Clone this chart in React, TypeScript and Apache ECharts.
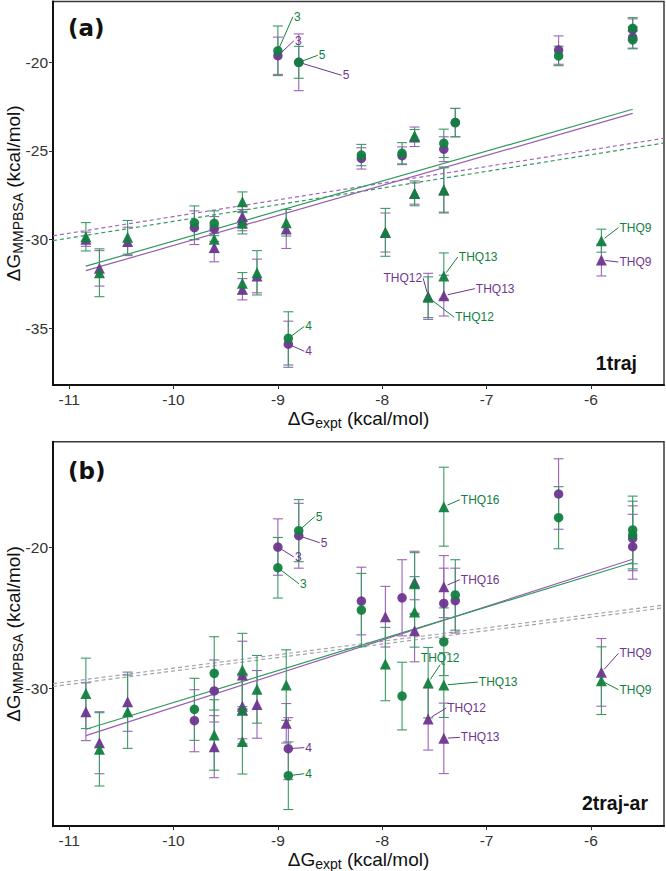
import React, { useEffect, useRef } from 'react';
import * as echarts from 'echarts';

// ---------- colours ----------
const GREEN = '#12803f';
const PURPLE = '#6f3591';
const GREEN_BAR = '#3c9a64';
const PURPLE_BAR = '#9d62b8';
const FONT = '"Liberation Sans", Arial, sans-serif';

// ---------- axes ----------
const xTicks = [-11, -10, -9, -8, -7, -6];
const xRange = [-11.155, -5.3];
const yTicksA = [-35, -30, -25, -20];
const yRangeA = [-38.2, -16.57];
const yTicksB = [-30, -20];
const yRangeB = [-39.8, -12.53];

// ---------- compounds ----------
const circleX = [-9.8, -9.61, -9.0, -8.9, -8.8, -8.2, -7.81, -7.41, -7.3, -6.31, -5.6, -5.6];
const circleNames = ['', '', '3', '4', '5', '', '', '', '', '', '', ''];
const triX = [-10.84, -10.71, -10.44, -9.61, -9.34, -9.34, -9.34, -9.2, -8.92, -7.97, -7.69, -7.69, -7.56, -7.41, -7.41, -5.9];
const triNames = ['', '', '', '', '', '', '', '', '', '', '', '', 'THQ12', 'THQ16', 'THQ13', 'THQ9'];

// ---------- panel (a) 1traj ----------
const aCircG = [-29.05, -29.08, -19.35, -35.57, -20.0, -25.23, -25.13, -24.57, -23.4, -19.64, -18.08, -18.74];
const aCircGErr = [0.95, 0.7, 1.4, 1.5, 0.9, 0.6, 0.6, 0.8, 0.8, 0.55, 0.6, 0.5];
const aCircP = [-29.33, -29.4, -19.63, -35.9, -20.0, -25.42, -25.27, -24.9, -23.4, -19.31, -18.15, -18.6];
const aCircPErr = [0.95, 0.7, 1.05, 1.3, 1.6, 0.6, 0.5, 0.7, 0.8, 0.8, 0.6, 0.6];
const aTriG = [-29.84, -31.87, -29.87, -29.98, -27.86, -29.08, -32.46, -31.87, -29.05, -29.59, -24.14, -27.39, -33.25, -27.2, -32.05, -30.06];
const aTriGErr = [0.8, 1.35, 0.95, 0.75, 0.55, 0.6, 0.6, 1.25, 0.75, 1.35, 0.35, 0.7, 1.15, 1.25, 1.3, 0.65];
const aTriP = [-29.98, -31.62, -30.1, -30.45, -28.7, -28.9, -32.8, -32.05, -29.4, -29.6, -24.2, -27.4, -33.2, -27.2, -33.16, -31.15];
const aTriPErr = [0.4, 1.0, 0.8, 0.8, 0.6, 0.6, 0.6, 0.95, 1.1, 1.1, 0.55, 0.6, 1.3, 1.3, 1.15, 0.9];

// ---------- panel (b) 2traj-ar ----------
const bCircG = [-31.51, -28.96, -21.47, -36.22, -18.84, -24.47, -30.57, -26.72, -23.4, -17.92, -18.79, -19.15];
const bCircGErr = [2.2, 2.6, 2.15, 2.4, 2.2, 2.6, 2.4, 2.4, 2.5, 2.2, 2.4, 2.4];
const bCircP = [-32.32, -30.21, -20.0, -34.3, -19.2, -23.83, -23.6, -24.0, -23.8, -16.24, -19.38, -19.98];
const bCircPErr = [2.2, 2.2, 2.0, 2.2, 2.3, 2.4, 2.7, 2.5, 2.3, 2.5, 2.3, 2.3];
const bTriG = [-30.38, -34.35, -31.68, -33.33, -28.72, -31.56, -33.8, -30.09, -29.79, -28.3, -22.6, -24.6, -29.62, -17.14, -29.79, -29.48];
const bTriGErr = [2.5, 2.6, 2.6, 2.5, 2.6, 2.5, 2.3, 2.4, 2.5, 2.6, 2.2, 2.5, 2.5, 2.8, 2.3, 2.4];
const bTriP = [-31.68, -33.88, -30.97, -34.16, -29.08, -31.56, -31.3, -31.16, -32.5, -24.94, -22.5, -25.94, -32.2, -22.81, -33.57, -28.89];
const bTriPErr = [2.05, 2.2, 2.1, 2.2, 2.4, 2.4, 2.3, 2.4, 1.4, 2.15, 2.2, 2.2, 2.2, 2.2, 2.5, 2.4];

// ---------- fitted lines (slope, intercept) ----------
const solidFitA = { green: [1.689, -13.19], purple: [1.693, -13.4] };
const dashedFitA = { green: [0.94, -19.57], purple: [0.94, -19.3] };
const solidFitB = { green: [2.258, -8.45], purple: [2.387, -7.5] };
const dashedFitB = { upper: [0.953, -19.06], lower: [0.953, -19.26] };

// ---------- labels: [shape, index, colour, dx, dy, align] ----------
const labelsA: any[] = [
  ['c', 2, 'g', 15, -34, 'left'], ['c', 2, 'p', 16, -15, 'left'],
  ['c', 4, 'g', 19, -7, 'left'], ['c', 4, 'p', 43, 13, 'left'],
  ['c', 3, 'g', 16, -12, 'left'], ['c', 3, 'p', 16, 7, 'left'],
  ['t', 12, 'g', 26, 20, 'left'], ['t', 12, 'p', -5, -18, 'right'],
  ['t', 14, 'g', 14, -19, 'left'], ['t', 14, 'p', 31, -7, 'left'],
  ['t', 15, 'g', 17, -13, 'left'], ['t', 15, 'p', 17, 2, 'left'],
];
const labelsB: any[] = [
  ['c', 2, 'p', 16, 10, 'left'], ['c', 2, 'g', 21, 16, 'left'],
  ['c', 4, 'g', 16, -14, 'left'], ['c', 4, 'p', 21, 7, 'left'],
  ['c', 3, 'p', 16, -1, 'left'], ['c', 3, 'g', 16, -2, 'left'],
  ['t', 13, 'g', 16, -7, 'left'], ['t', 13, 'p', 16, -7, 'left'],
  ['t', 12, 'g', 12, -18, 'top'], ['t', 12, 'p', 18, -11, 'left'],
  ['t', 14, 'g', 34, -3, 'left'], ['t', 14, 'p', 16, -1, 'left'],
  ['t', 15, 'p', 17, -19, 'left'], ['t', 15, 'g', 17, 9, 'left'],
];

const errData = (xs: number[], v: number[], e: number[]) => xs.map((x, i) => [x, v[i] - e[i], v[i] + e[i]]);
const ptData = (xs: number[], v: number[]) => xs.map((x, i) => [x, v[i]]);

function errorSeries(panel: number, data: number[][], color: string) {
  return {
    type: 'custom', xAxisIndex: panel, yAxisIndex: panel, data, z: 3, silent: true,
    renderItem: (params: any, api: any) => {
      const x = api.value(0), lo = api.value(1), hi = api.value(2);
      const t = api.coord([x, hi]);
      const b = api.coord([x, lo]);
      const st = { stroke: color, lineWidth: 1.1, fill: null };
      return {
        type: 'group', children: [
          { type: 'line', shape: { x1: t[0], y1: t[1], x2: b[0], y2: b[1] }, style: st },
          { type: 'line', shape: { x1: t[0] - 5, y1: t[1], x2: t[0] + 5, y2: t[1] }, style: st },
          { type: 'line', shape: { x1: b[0] - 5, y1: b[1], x2: b[0] + 5, y2: b[1] }, style: st },
        ],
      };
    },
  };
}

function scatter(panel: number, data: number[][], color: string, symbol: string, z: number) {
  return {
    type: 'scatter', xAxisIndex: panel, yAxisIndex: panel, data, symbol,
    symbolSize: symbol === 'triangle' ? 11 : 9.5, z, silent: true,
    itemStyle: { color, opacity: 0.95 },
  };
}

function lineSeries(panel: number, x0: number, x1: number, fit: number[], color: string, dashed: boolean) {
  const [b, a] = fit;
  return {
    type: 'line', xAxisIndex: panel, yAxisIndex: panel, symbol: 'none', silent: true, z: 2,
    data: [[x0, a + b * x0], [x1, a + b * x1]],
    lineStyle: { color, width: 1.2, type: dashed ? [4, 3] : 'solid' },
  };
}

function labelSeries(panel: number, labels: any[], vals: any) {
  const items = labels.map(([shape, idx, col, dx, dy, align]) => {
    const xs = shape === 'c' ? circleX : triX;
    const v = vals[shape + col][idx];
    return {
      x: xs[idx], y: v, dx, dy, align,
      text: shape === 'c' ? circleNames[idx] : triNames[idx],
      color: col === 'g' ? GREEN : PURPLE,
    };
  });
  return {
    type: 'custom', xAxisIndex: panel, yAxisIndex: panel, z: 10, silent: true, clip: false,
    data: items.map((it) => [it.x, it.y]),
    renderItem: (params: any, api: any) => {
      const it = items[params.dataIndex];
      const p = api.coord([it.x, it.y]);
      const ax = p[0] + it.dx, ay = p[1] + it.dy;
      const len = Math.hypot(it.dx, it.dy) || 1;
      const sx = p[0] + (it.dx / len) * 4, sy = p[1] + (it.dy / len) * 4;
      let tx = ax + 1, ty = ay, al = 'left', va = 'middle';
      if (it.align === 'right') { tx = ax - 1; al = 'right'; }
      if (it.align === 'top') { tx = ax; ty = ay - 1; al = 'center'; va = 'bottom'; }
      return {
        type: 'group', children: [
          { type: 'line', shape: { x1: sx, y1: sy, x2: ax, y2: ay }, style: { stroke: it.color, lineWidth: 1 } },
          {
            type: 'text', x: tx, y: ty,
            style: { text: it.text, fill: it.color, font: `12px ${FONT}`, align: al, verticalAlign: va, textAlign: al, textVerticalAlign: va },
          },
        ],
      };
    },
  };
}

const richName = {
  m: { fontSize: 19, fontFamily: FONT, color: '#111', lineHeight: 24, verticalAlign: 'middle' },
  s: { fontSize: 14, fontFamily: FONT, color: '#111', lineHeight: 14, verticalAlign: 'bottom' },
};

function axes(panel: number, yRange: number[], yTicks: number[]) {
  const labelStyle = { color: '#333', fontSize: 15.5, fontFamily: FONT };
  const x = {
    type: 'value', gridIndex: panel, min: xRange[0], max: xRange[1],
    axisLine: { show: true, onZero: false, lineStyle: { color: '#111', width: 2 } },
    axisTick: { show: true, customValues: xTicks, length: 4, lineStyle: { color: '#333', width: 1 } },
    axisLabel: { customValues: xTicks, margin: 6, ...labelStyle },
    splitLine: { show: false },
    name: '{m|ΔG}{s|expt}{m| (kcal/mol)}', nameLocation: 'middle', nameGap: 21, nameMoveOverlap: false,
    nameTextStyle: { rich: richName },
  };
  const y = {
    type: 'value', gridIndex: panel, min: yRange[0], max: yRange[1],
    axisLine: { show: true, onZero: false, lineStyle: { color: '#111', width: 2 } },
    axisTick: { show: true, customValues: yTicks, length: 4, lineStyle: { color: '#333', width: 1 } },
    axisLabel: { customValues: yTicks, margin: 5, ...labelStyle },
    splitLine: { show: false },
    name: '{m|ΔG}{s|MMPBSA}{m| (kcal/mol)}', nameLocation: 'middle', nameGap: 28, nameMoveOverlap: false,
    nameTextStyle: { rich: richName },
  };
  return { x, y };
}

function panelSeries(panel: number, cg: number[], cge: number[], cp: number[], cpe: number[],
  tg: number[], tge: number[], tp: number[], tpe: number[], solid: any, dashed: any, dashedColors: string[], labels: any[]) {
  const allX = [...circleX, ...triX];
  const x0 = Math.min(...allX), x1 = Math.max(...allX);
  const dKeys = Object.keys(dashed);
  return [
    lineSeries(panel, xRange[0], xRange[1], dashed[dKeys[0]], dashedColors[0], true),
    lineSeries(panel, xRange[0], xRange[1], dashed[dKeys[1]], dashedColors[1], true),
    lineSeries(panel, x0, x1, solid.purple, '#9a5cb4', false),
    lineSeries(panel, x0, x1, solid.green, '#2f9a5c', false),
    errorSeries(panel, errData(circleX, cp, cpe), PURPLE_BAR),
    errorSeries(panel, errData(triX, tp, tpe), PURPLE_BAR),
    errorSeries(panel, errData(circleX, cg, cge), GREEN_BAR),
    errorSeries(panel, errData(triX, tg, tge), GREEN_BAR),
    scatter(panel, ptData(circleX, cp), PURPLE, 'circle', 4),
    scatter(panel, ptData(triX, tp), PURPLE, 'triangle', 4),
    scatter(panel, ptData(circleX, cg), GREEN, 'circle', 5),
    scatter(panel, ptData(triX, tg), GREEN, 'triangle', 5),
    labelSeries(panel, labels, { cg, cp, tg, tp }),
  ];
}

export default function App() {
  const ref = useRef<HTMLDivElement>(null);
  useEffect(() => {
    if (!ref.current) return;
    const chart = echarts.init(ref.current, null, { renderer: 'svg' });
    const A = axes(0, yRangeA, yTicksA);
    const B = axes(1, yRangeB, yTicksB);
    const gridBase = {
      left: 53, width: 611, show: true, borderColor: '#3a3a3a', borderWidth: 1.5,
      backgroundColor: '#fff', containLabel: false, outerBoundsMode: 'none',
    };
    chart.setOption({
      animation: false,
      backgroundColor: '#fff',
      grid: [
        { ...gridBase, top: 1.5, height: 383.5 },
        { ...gridBase, top: 441.7, height: 384.5 },
      ],
      xAxis: [A.x, B.x],
      yAxis: [A.y, B.y],
      series: [
        ...panelSeries(0, aCircG, aCircGErr, aCircP, aCircPErr, aTriG, aTriGErr, aTriP, aTriPErr,
          solidFitA, dashedFitA, ['#2f9a5c', '#a165bb'], labelsA),
        ...panelSeries(1, bCircG, bCircGErr, bCircP, bCircPErr, bTriG, bTriGErr, bTriP, bTriPErr,
          solidFitB, dashedFitB, ['#a8a0b2', '#9aaaa2'], labelsB),
      ],
      graphic: [
        { type: 'text', left: 68, top: 16, style: { text: '(a)', font: 'bold 23px "DejaVu Sans"', fill: '#111' } },
        { type: 'text', left: 68, top: 459, style: { text: '(b)', font: 'bold 23px "DejaVu Sans"', fill: '#111' } },
        { type: 'text', right: 29, top: 353, style: { text: '1traj', font: `bold 19.5px ${FONT}`, fill: '#111' } },
        { type: 'text', right: 18, top: 793, style: { text: '2traj-ar', font: `bold 19.5px ${FONT}`, fill: '#111' } },
      ],
    });
    return () => chart.dispose();
  }, []);
  return (
    <div
      ref={ref}
      style={{ position: 'fixed', left: 0, top: 0, width: 666, height: 871, background: '#fff' }}
    />
  );
}
